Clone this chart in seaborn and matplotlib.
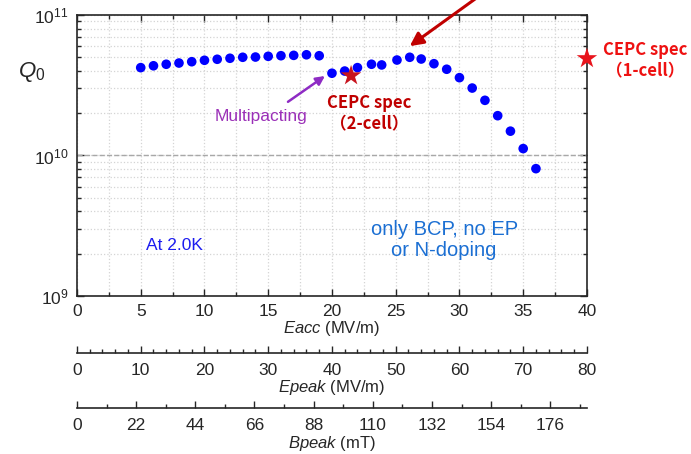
import pandas as pd
import matplotlib
matplotlib.use("Agg")
import matplotlib.pyplot as plt
import seaborn as sns
from matplotlib.ticker import MultipleLocator, LogLocator, NullFormatter

# Q0 vs Eacc
eacc_low = [5, 6, 7, 8, 9, 10, 11, 12, 13, 14, 15, 16, 17, 18, 19]
q0_low = [4.22e10, 4.35e10, 4.46e10, 4.55e10, 4.65e10, 4.76e10, 4.84e10, 4.92e10,
          5.0e10, 5.02e10, 5.08e10, 5.13e10, 5.16e10, 5.21e10, 5.13e10]
eacc_high = [20.0, 21.0, 22.0, 23.1, 23.9, 25.1, 26.1, 27.0, 28.0, 29.0, 30.0,
             31.0, 32.0, 33.0, 34.0, 35.0, 36.0]
q0_high = [3.85e10, 3.99e10, 4.22e10, 4.46e10, 4.41e10, 4.78e10, 5.0e10, 4.86e10,
           4.50e10, 4.11e10, 3.58e10, 3.02e10, 2.47e10, 1.92e10, 1.49e10, 1.12e10, 8.06e9]

# CEPC spec points
spec_names = ["2-cell", "1-cell"]
spec_eacc = [21.5, 40.0]
spec_q0 = [3.7e10, 4.9e10]

# conversion factors for the extra axes
epeak_per_eacc = 2.0
bpeak_per_eacc = 4.74

sns.set_theme(style="ticks")
plt.rcParams["font.family"] = ["Liberation Sans", "DejaVu Sans"]
plt.rcParams["mathtext.fontset"] = "custom"
plt.rcParams["mathtext.rm"] = "Liberation Sans"
plt.rcParams["mathtext.it"] = "Liberation Sans:italic"
plt.rcParams["axes.linewidth"] = 1.2

data = pd.DataFrame({
    "Eacc": eacc_low + eacc_high,
    "Q0": q0_low + q0_high,
})
specs = pd.DataFrame({"name": spec_names, "Eacc": spec_eacc, "Q0": spec_q0})

fig = plt.figure(figsize=(6.91, 4.54), dpi=100)
ax = fig.add_axes([0.1114, 0.348, 0.738, 0.619])

sns.scatterplot(x="Eacc", y="Q0", data=data, ax=ax, color="#0000ff",
                s=48, edgecolor="none", zorder=4)
sns.scatterplot(x="Eacc", y="Q0", data=specs, ax=ax, hue="name",
                palette={"2-cell": "#c8141e", "1-cell": "#e8141c"},
                marker="*", s=240, edgecolor="none", legend=False,
                zorder=5, clip_on=False)

ax.set_yscale("log")
ax.set_xlim(0, 40)
ax.set_ylim(1e9, 1e11)
ax.xaxis.set_major_locator(MultipleLocator(5))
ax.xaxis.set_minor_locator(MultipleLocator(2.5))
ax.yaxis.set_major_locator(LogLocator(base=10))
ax.yaxis.set_minor_locator(LogLocator(base=10, subs=range(2, 10)))
ax.yaxis.set_minor_formatter(NullFormatter())
ax.tick_params(which="both", direction="in", top=True, right=True,
               labelsize=12.5, width=1.0, pad=6)
ax.tick_params(which="major", length=5)
ax.tick_params(which="minor", length=3)
ax.grid(which="both", color="#d4d4d4", linestyle=":", linewidth=0.9)
ax.axhline(1e10, color="#a8a8a8", linestyle="--", linewidth=1.0, zorder=2)

ax.set_xlabel(r"$\mathit{Eacc}$ (MV/m)", fontsize=12, labelpad=0)
ax.set_ylabel("")
fig.text(32 / 691, 1 - 72 / 454, r"$\mathit{Q}_{\mathit{0}}$", fontsize=16,
         ha="center", va="center")

# extra x axes below the plot
sec1 = ax.secondary_xaxis(-0.203, functions=(lambda x: x * epeak_per_eacc,
                                              lambda x: x / epeak_per_eacc))
sec1.xaxis.set_major_locator(MultipleLocator(10))
sec1.xaxis.set_minor_locator(MultipleLocator(2))
sec1.set_xlabel(r"$\mathit{Epeak}$ (MV/m)", fontsize=12, labelpad=0)

sec2 = ax.secondary_xaxis(-0.399, functions=(lambda x: x * bpeak_per_eacc,
                                              lambda x: x / bpeak_per_eacc))
sec2.xaxis.set_major_locator(MultipleLocator(22))
sec2.xaxis.set_minor_locator(MultipleLocator(11))
sec2.set_xlabel(r"$\mathit{Bpeak}$ (mT)", fontsize=12, labelpad=1)

for sec in (sec1, sec2):
    sec.tick_params(which="both", direction="in", labelsize=12.5, width=1.0, pad=7)
    sec.tick_params(which="major", length=5)
    sec.tick_params(which="minor", length=3)
    for sp in sec.spines.values():
        sp.set_linewidth(1.2)

# annotations
cjk = ["Noto Sans CJK SC", "DejaVu Sans"]
ax.annotate("", xy=(26.1, 6.0e10), xytext=(482 / 691, 1 + 6 / 454),
            textcoords="figure fraction", annotation_clip=False,
            arrowprops=dict(arrowstyle="-|>", color="#c00000", lw=2.2,
                            mutation_scale=20, shrinkA=0, shrinkB=0))
ax.annotate("", xy=(19.45, 3.68e10), xytext=(16.55, 2.41e10),
            arrowprops=dict(arrowstyle="-|>", color="#8e2bc4", lw=1.8,
                            mutation_scale=13, shrinkA=0, shrinkB=0))
ax.text(14.4, 1.91e10, "Multipacting", color="#9b30b8", fontsize=12.5,
        ha="center", va="center")
ax.text(22.9, 1.99e10, "CEPC spec\n（2-cell）", color="#c00000", fontsize=12,
        fontweight="bold", family=cjk, ha="center", va="center", linespacing=1.25)
fig.text(645 / 691, 1 - 61 / 454, "CEPC spec\n（1-cell）", color="#ee1111",
         fontsize=12, fontweight="bold", family=cjk, ha="center", va="center",
         linespacing=1.25)
ax.text(7.66, 2.27e9, "At 2.0K", color="#1c1cf0", fontsize=12.5,
        ha="center", va="center")
ax.text(28.8, 2.5e9, "only BCP, no EP\nor N-doping", color="#1b6fd3",
        fontsize=14.5, ha="center", va="center", linespacing=1.15)

fig.savefig("out.png", dpi=100)
